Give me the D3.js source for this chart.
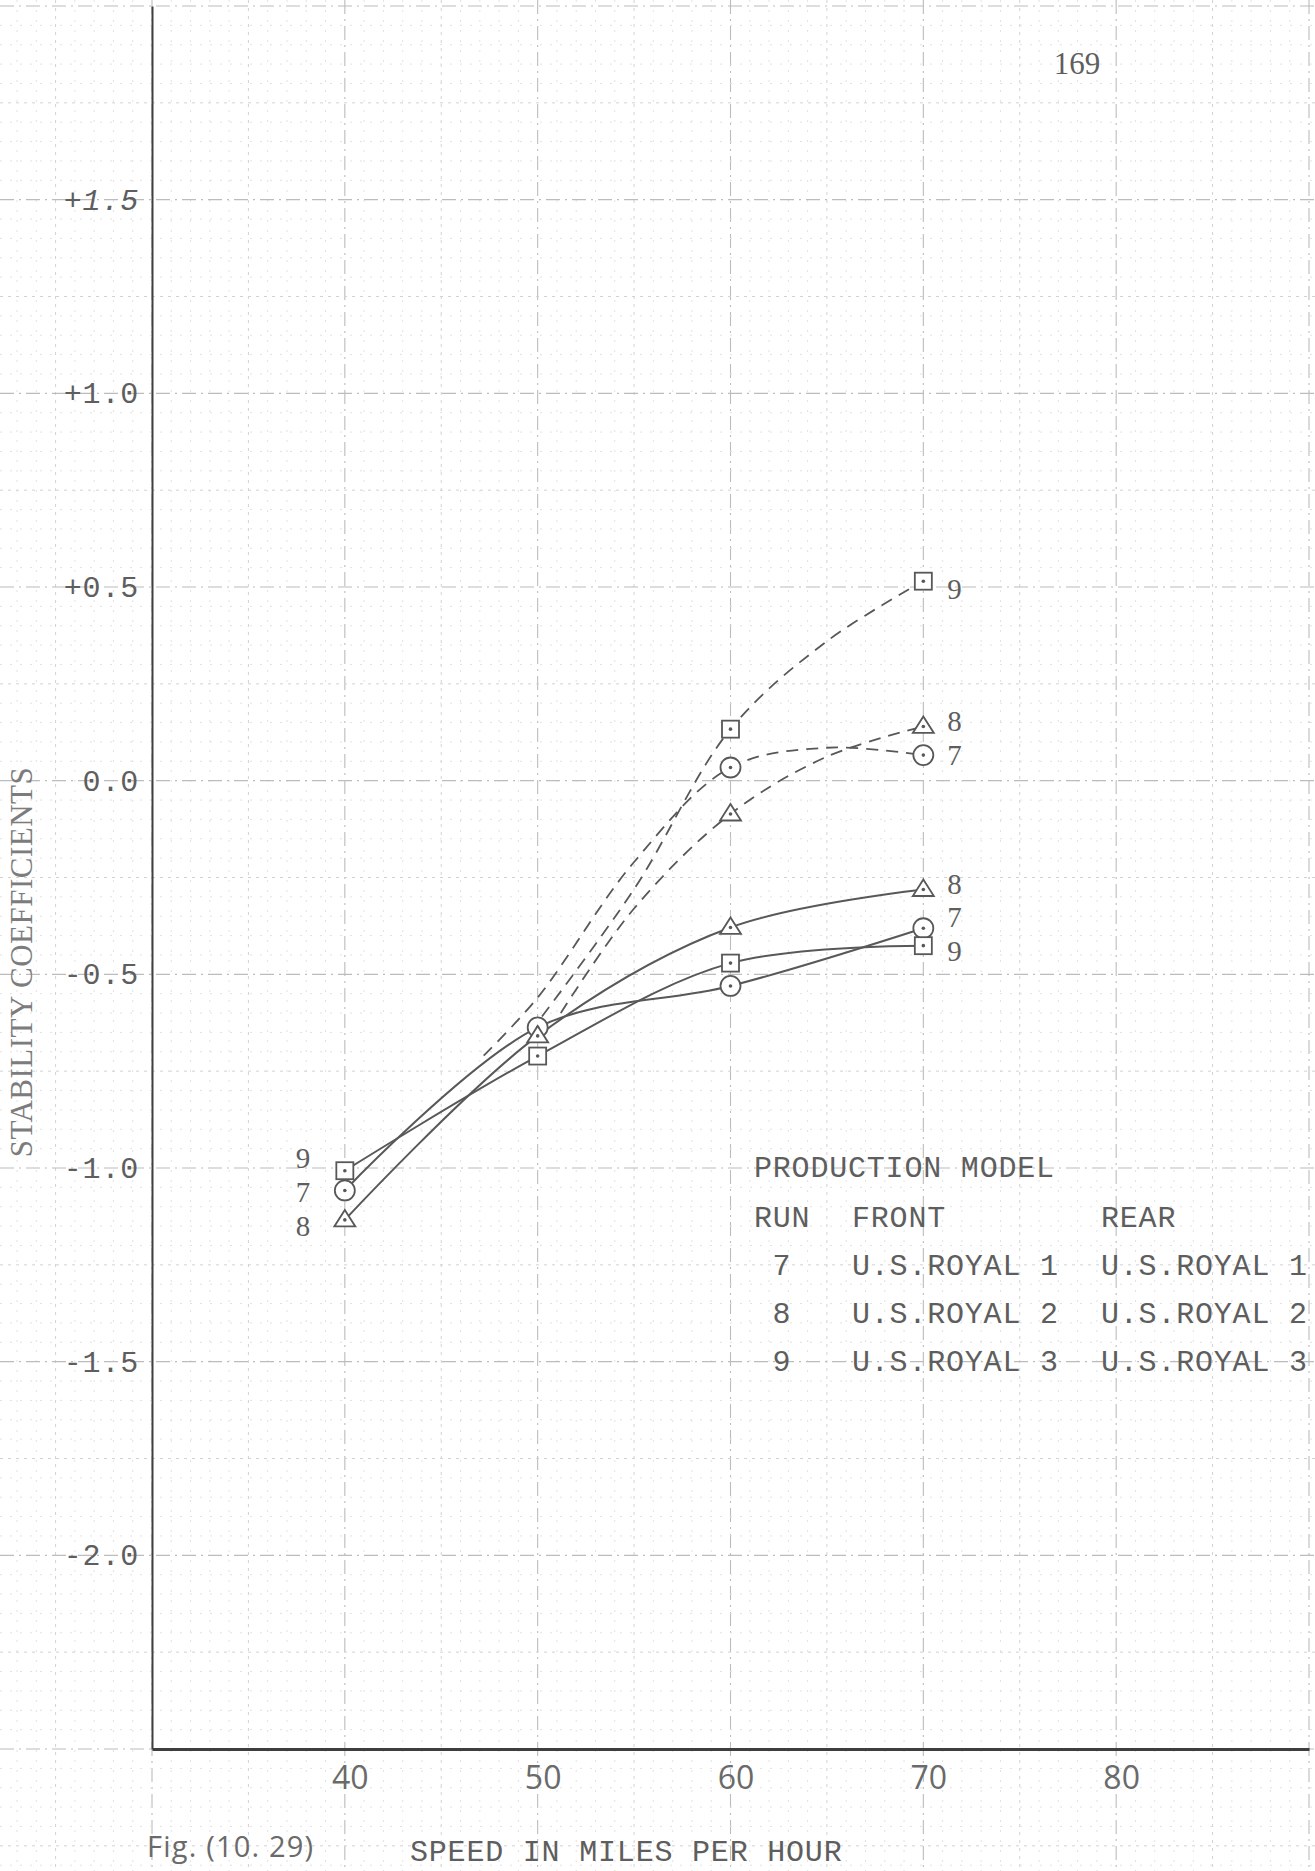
<!DOCTYPE html>
<html><head><meta charset="utf-8">
<script src="https://cdn.jsdelivr.net/npm/d3@7"></script>
<style>
html,body{margin:0;padding:0;background:#fff;}
svg{display:block;}
</style></head><body>
<script>
// ---------------- DATA ----------------
const speeds = [40, 50, 60, 70];                 // mph, marked points of solid curves
const solid7 = [-1.058, -0.637, -0.530, -0.381];
const solid8 = [-1.134, -0.659, -0.379, -0.281];
const solid9 = [-1.007, -0.711, -0.471, -0.426];

// dashed curves branch off the solid ones; markers only at 60 and 70 mph
const dashedMarked = [60, 70];
const dashedX7 = [47.2, 50, 55, 60, 65, 70];
const dashed7  = [-0.71, -0.56, -0.21, 0.034, 0.085, 0.066];
const dashedX8 = [51.2, 55, 60, 65, 70];
const dashed8  = [-0.60, -0.33, -0.086, 0.062, 0.140];
const dashedX9 = [49.6, 55, 60, 65, 70];
const dashed9  = [-0.65, -0.28, 0.133, 0.36, 0.515];

const xTickValues = [40, 50, 60, 70, 80];
const yTickValues = [1.5, 1.0, 0.5, 0.0, -0.5, -1.0, -1.5, -2.0];
const yTickLabels = ["+1.5", "+1.0", "+0.5", "0.0", "-0.5", "-1.0", "-1.5", "-2.0"];

const legendTitle = "PRODUCTION MODEL";
const legendHeader = ["RUN", "FRONT", "REAR"];
const legendRuns = ["7", "8", "9"];
const legendFront = ["U.S.ROYAL 1", "U.S.ROYAL 2", "U.S.ROYAL 3"];
const legendRear = ["U.S.ROYAL 1", "U.S.ROYAL 2", "U.S.ROYAL 3"];

const yTitle = "STABILITY COEFFICIENTS";
const xTitle = "SPEED IN MILES PER HOUR";
const figLabel = "Fig. (10. 29)";
const pageNumber = "169";

// ---------------- LAYOUT ----------------
const W = 1315, H = 1871;
const ink = "#585858", textInk = "#5e5e5e";
const mono = "'Liberation Mono', 'DejaVu Sans Mono', monospace";
const serif = "'Liberation Serif', 'DejaVu Serif', serif";
const sans = "'Open Sans', 'Noto Sans', sans-serif";

const svg = d3.select("body").append("svg").attr("width", W).attr("height", H);
svg.append("rect").attr("width", W).attr("height", H).attr("fill", "#fff");

const x = d3.scaleLinear().domain([30, 90]).range([152, 1309]);
const y = d3.scaleLinear().domain([-2.5, 2.0]).range([1749, 6]);

// ---------------- GRAPH PAPER ----------------
const grid = svg.append("g");
const near = (v, s) => Math.abs(v / s - Math.round(v / s)) < 1e-6;
const vx = d3.range(23, 91, 1);
const hy = d3.range(-56, 41, 1).map(i => i * 0.05);
function gStyle(sel, major, mid) {
  sel.attr("stroke", major ? "#bcbcbc" : mid ? "#d2d2d2" : "#e2e2e2")
     .attr("stroke-width", major ? 1.1 : 1)
     .attr("stroke-dasharray", major ? "14,5,2,5" : mid ? "3,5" : "2,8");
}
grid.selectAll("line.v").data(vx).join("line").attr("class", "v")
  .attr("x1", d => x(d)).attr("x2", d => x(d)).attr("y1", 0).attr("y2", H)
  .each(function(d) { gStyle(d3.select(this), near(d, 10), near(d, 5)); });
grid.selectAll("line.h").data(hy).join("line").attr("class", "h")
  .attr("y1", d => y(d)).attr("y2", d => y(d)).attr("x1", 0).attr("x2", W)
  .each(function(d) { gStyle(d3.select(this), near(d, 0.5), near(d, 0.25)); });

// ---------------- AXES ----------------
const xAxis = svg.append("g").attr("transform", `translate(0,${y(-2.5)})`)
  .call(d3.axisBottom(x).tickValues(xTickValues).tickSize(0).tickPadding(17).tickFormat(d3.format("d")));
xAxis.select(".domain").attr("stroke", "#3e3e3e").attr("stroke-width", 3);
xAxis.selectAll("text").attr("font-family", sans).attr("font-size", 32).attr("fill", "#6a6a6a")
  .attr("dx", 5);

const yAxis = svg.append("g").attr("transform", `translate(${x(30)},0)`)
  .call(d3.axisLeft(y).tickValues(yTickValues).tickSize(0).tickPadding(13)
    .tickFormat((d, i) => yTickLabels[i]));
yAxis.select(".domain").attr("stroke", "#404040").attr("stroke-width", 2);
yAxis.selectAll("text").attr("font-family", mono).attr("font-size", 30).attr("fill", textInk)
  .attr("letter-spacing", 0.8)
  .attr("font-style", (d, i) => i === 0 ? "italic" : "normal");

// ---------------- CURVES ----------------
const line = d3.line().x(d => x(d[0])).y(d => y(d[1])).curve(d3.curveCatmullRom.alpha(0.5));
const plot = svg.append("g");

const solidSeries = [
  {run: "7", shape: "circle", vals: solid7},
  {run: "8", shape: "triangle", vals: solid8},
  {run: "9", shape: "square", vals: solid9}
];
const dashedSeries = [
  {run: "7", shape: "circle", xs: dashedX7, vals: dashed7},
  {run: "8", shape: "triangle", xs: dashedX8, vals: dashed8},
  {run: "9", shape: "square", xs: dashedX9, vals: dashed9}
];

dashedSeries.forEach(s => {
  plot.append("path").datum(s.xs.map((v, i) => [v, s.vals[i]]))
    .attr("d", line).attr("fill", "none").attr("stroke", ink).attr("stroke-width", 1.8)
    .attr("stroke-dasharray", "12,8");
});
solidSeries.forEach(s => {
  plot.append("path").datum(speeds.map((v, i) => [v, s.vals[i]]))
    .attr("d", line).attr("fill", "none").attr("stroke", ink).attr("stroke-width", 2);
});

function marker(g, shape, cx, cy) {
  const m = g.append("g").attr("transform", `translate(${cx},${cy})`);
  if (shape === "circle") {
    m.append("circle").attr("r", 10).attr("fill", "#fff").attr("stroke", ink).attr("stroke-width", 1.8);
  } else if (shape === "square") {
    m.append("rect").attr("x", -8.5).attr("y", -8.5).attr("width", 17).attr("height", 17)
      .attr("fill", "#fff").attr("stroke", ink).attr("stroke-width", 1.8);
  } else {
    m.append("path").attr("d", "M0,-10 L10.5,6.5 L-10.5,6.5 Z")
      .attr("fill", "#fff").attr("stroke", ink).attr("stroke-width", 1.8);
  }
  m.append("circle").attr("r", 1.8).attr("fill", ink);
}
solidSeries.forEach(s => speeds.forEach((v, i) => marker(plot, s.shape, x(v), y(s.vals[i]))));
dashedSeries.forEach(s => s.xs.forEach((v, i) => {
  if (dashedMarked.includes(v)) marker(plot, s.shape, x(v), y(s.vals[i]));
}));

// ---------------- RUN LABELS ----------------
const lab = svg.append("g").attr("font-family", serif).attr("font-size", 29).attr("fill", textInk)
  .attr("dominant-baseline", "central");
const last = speeds.length - 1;
const rightNudgeSolid = {"7": -11, "8": -6, "9": 5};
const rightNudgeDashed = {"7": 0, "8": -5, "9": 8};
const leftNudge = {"7": 2, "8": 6, "9": -13};
solidSeries.forEach(s => {
  lab.append("text").attr("x", x(speeds[last]) + 24).attr("y", y(s.vals[last]) + rightNudgeSolid[s.run]).text(s.run);
  lab.append("text").attr("x", x(speeds[0]) - 49).attr("y", y(s.vals[0]) + leftNudge[s.run]).text(s.run);
});
dashedSeries.forEach(s => {
  const k = s.xs.length - 1;
  lab.append("text").attr("x", x(s.xs[k]) + 24).attr("y", y(s.vals[k]) + rightNudgeDashed[s.run]).text(s.run);
});

// ---------------- LEGEND ----------------
const leg = svg.append("g").attr("font-family", mono).attr("font-size", 30).attr("fill", textInk)
  .attr("letter-spacing", 0.8).attr("dominant-baseline", "central");
const colX = [754, 852, 1101];
const rowY0 = 1169, rowStep = 48;
leg.append("text").attr("x", colX[0]).attr("y", rowY0).text(legendTitle);
legendHeader.forEach((t, i) => leg.append("text").attr("x", colX[i]).attr("y", rowY0 + 50).text(t));
legendRuns.forEach((r, i) => {
  const yy = rowY0 + 50 + rowStep * (i + 1);
  leg.append("text").attr("x", colX[0] + 28).attr("y", yy).attr("text-anchor", "middle").text(r);
  leg.append("text").attr("x", colX[1]).attr("y", yy).text(legendFront[i]);
  leg.append("text").attr("x", colX[2]).attr("y", yy).text(legendRear[i]);
});

// ---------------- TITLES ----------------
svg.append("text").attr("transform", `translate(32,962) rotate(-90)`)
  .attr("text-anchor", "middle").attr("font-family", serif).attr("font-size", 31)
  .attr("letter-spacing", 0.5).attr("fill", "#7c7c7c").text(yTitle);
svg.append("text").attr("x", 410).attr("y", 1861).attr("font-family", mono).attr("font-size", 30)
  .attr("letter-spacing", 0.8).attr("fill", textInk).text(xTitle);
svg.append("text").attr("x", 147).attr("y", 1857).attr("font-family", sans).attr("font-size", 29)
  .attr("letter-spacing", 1.2).attr("fill", "#6a6a6a").text(figLabel);
svg.append("text").attr("x", 1077).attr("y", 63).attr("text-anchor", "middle")
  .attr("dominant-baseline", "central").attr("font-family", serif).attr("font-size", 31)
  .attr("fill", textInk).text(pageNumber);
</script>
</body></html>
